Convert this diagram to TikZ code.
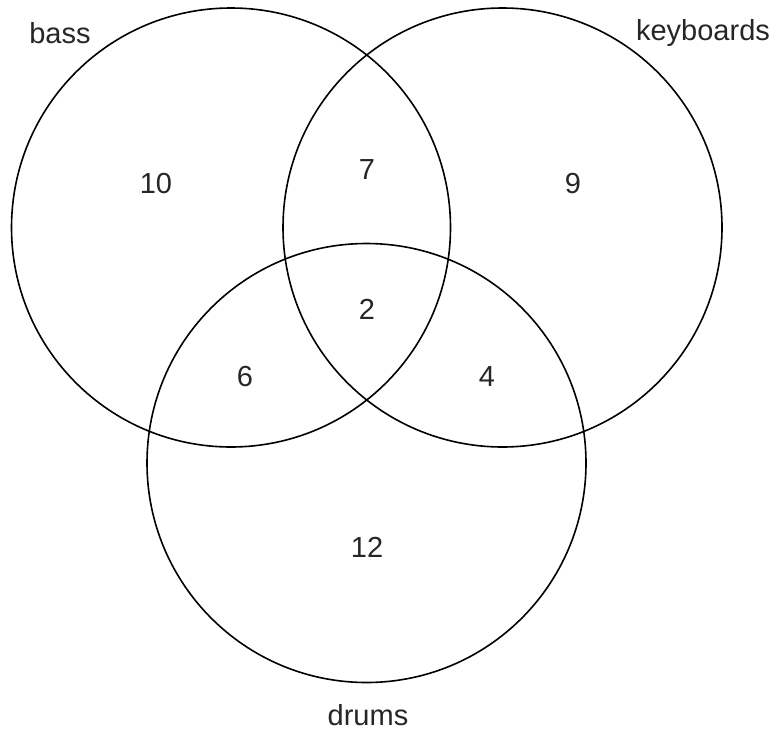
\documentclass[tikz,border=0pt]{standalone}
\usepackage{fontspec}
\setmainfont{Liberation Sans}
\begin{document}
\begin{tikzpicture}[x=1pt,y=-1pt,
  venn/.style={draw=black, line width=1.6pt},
  lbl/.style={font=\fontsize{29}{34}\selectfont, text=black!85, inner sep=0pt}]
\useasboundingbox (0,0) rectangle (776,731);
\node[venn, circle, minimum size=439pt, inner sep=0pt] (bass) at (231,227.5) {};
\node[venn, circle, minimum size=439pt, inner sep=0pt] (keys) at (502.5,227.5) {};
\node[venn, circle, minimum size=439pt, inner sep=0pt] (drums) at (366.5,463) {};
\node[lbl] (lbass) at (60,33) {bass};
\node[lbl] (lkeys) at (703,33) {keyboards};
\node[lbl] (ldrums) at (368,715) {drums};
\node[lbl] (n10) at (156,184) {10};
\node[lbl] (n7) at (367,170) {7};
\node[lbl] (n9) at (573,184) {9};
\node[lbl] (n2) at (367,309) {2};
\node[lbl] (n6) at (245,377) {6};
\node[lbl] (n4) at (487,377) {4};
\node[lbl] (n12) at (367,547) {12};
\end{tikzpicture}
\end{document}
